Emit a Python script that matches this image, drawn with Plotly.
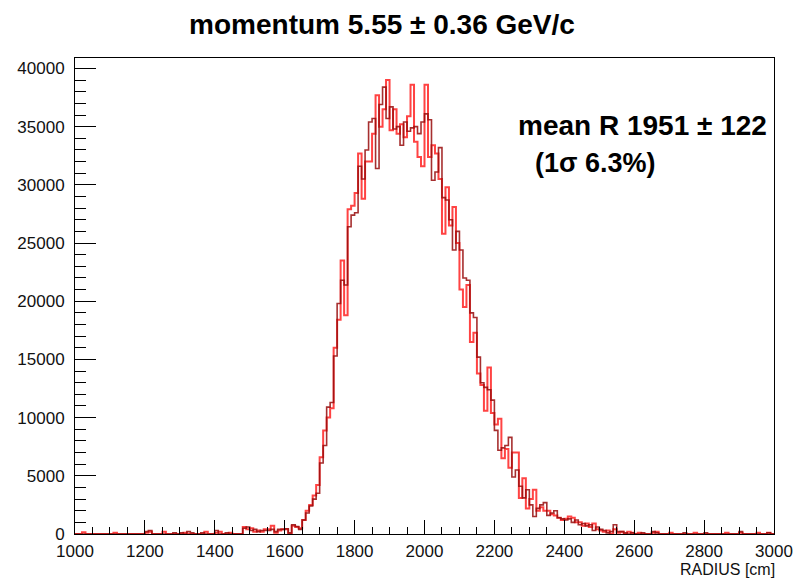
import plotly.graph_objects as go

# ---------------- data ----------------
bin_start = 1000
bin_width = 10
n_bins = 200

# dark-red histogram (counts per 10 cm bin, 1000..2990)
counts_dark = [
    0, 0, 0, 0, 0, 0, 0, 0, 0, 0,
    0, 0, 0, 0, 0, 0, 0, 0, 0, 0,
    200, 300, 0, 0, 0, 0, 0, 0, 100, 0,
    100, 0, 200, 100, 0, 0, 100, 0, 0, 0,
    300, 0, 0, 100, 0, 0, 0, 0, 500, 600,
    300, 400, 200, 300, 300, 300, 400, 200, 400, 400,
    450, 100, 800, 650, 400, 1200, 1800, 2400, 3000, 3500,
    6100, 7600, 10900, 11300, 15300, 19800, 21800, 21400, 26400, 27400,
    27600, 31600, 30500, 33000, 35400, 35700, 31400, 36900, 38400, 35700,
    36700, 34800, 35000, 33400, 35400, 34600, 34900, 35000, 34400, 35400,
    36100, 35600, 30400, 31100, 33200, 28900, 28700, 27000, 24400, 26000,
    24400, 22000, 21800, 19000, 18600, 15200, 13000, 12600, 12400, 11500,
    8900, 7200, 7400, 7600, 8300, 4900, 5500, 4100, 3100, 3800,
    2500, 1500, 2200, 2500, 2700, 1600, 1800, 2000, 1400, 1300,
    1200, 1300, 1000, 1200, 800, 900, 700, 800, 300, 600,
    400, 300, 100, 200, 800, 200, 200, 100, 0, 100,
    0, 0, 100, 0, 0, 200, 100, 0, 0, 0,
    0, 0, 0, 0, 100, 0, 0, 0, 0, 0,
    100, 0, 0, 0, 0, 0, 0, 0, 0, 0,
    200, 0, 0, 0, 0, 0, 0, 0, 100, 0,
]

# red histogram
counts_red = [
    0, 0, 150, 0, 0, 0, 0, 0, 0, 0,
    0, 100, 0, 0, 0, 0, 0, 0, 0, 0,
    100, 200, 0, 0, 0, 200, 0, 0, 0, 0,
    0, 100, 0, 0, 0, 0, 0, 200, 0, 0,
    100, 200, 0, 0, 100, 0, 0, 0, 600, 400,
    500, 200, 300, 200, 400, 400, 700, 100, 300, 400,
    400, 0, 700, 600, 500, 1200, 2000, 2500, 3300, 4200,
    6600, 8900, 10000, 10800, 16000, 18400, 23500, 18800, 27900, 28200,
    29300, 32700, 28800, 32000, 32000, 34400, 37700, 35000, 36500, 39000,
    34700, 36500, 34400, 35200, 34100, 35900, 38600, 33700, 32400, 31600,
    38600, 32400, 33400, 32700, 30500, 25800, 29800, 26500, 28100, 25000,
    21000, 19500, 21400, 16500, 17300, 13800, 12800, 10600, 14300, 10400,
    9400, 9900, 6500, 7300, 5700, 7000, 7000, 3100, 4800, 2200,
    3000, 3800, 2000, 2300, 2000, 2000, 1700, 1600, 1400, 1200,
    1300, 1500, 1400, 1000, 1000, 700, 900, 600, 900, 400,
    300, 200, 300, 0, 400, 100, 200, 0, 200, 100,
    0, 100, 0, 0, 0, 100, 200, 0, 0, 0,
    100, 0, 0, 0, 0, 0, 0, 100, 0, 0,
    0, 0, 0, 0, 0, 0, 100, 0, 0, 0,
    100, 0, 0, 0, 0, 100, 0, 0, 100, 0,
]

title_text = "momentum 5.55 \u00b1 0.36 GeV/c"
mean_text = "mean R 1951 \u00b1 122"
sigma_text = "(1\u03c3 6.3%)"
x_title = "RADIUS [cm]"

x_min, x_max = 1000, 3000
y_max = 40900

# ---------------- figure ----------------
edges = [bin_start + i * bin_width for i in range(n_bins + 1)]


def step_xy(counts):
    xs = [edges[0]] + edges
    ys = [0] + list(counts) + [counts[-1]]
    return xs, ys


fig = go.Figure()
xr, yr = step_xy(counts_red)
fig.add_trace(go.Scatter(x=xr, y=yr, mode="lines", line_shape="hv",
                         line=dict(color="rgba(255,20,20,0.8)", width=2),
                         hoverinfo="skip", showlegend=False))
xd, yd = step_xy(counts_dark)
fig.add_trace(go.Scatter(x=xd, y=yd, mode="lines", line_shape="hv",
                         line=dict(color="rgba(150,10,10,0.85)", width=1.6),
                         hoverinfo="skip", showlegend=False))

W, H = 805, 579
L, R, T, B = 75, 23, 58, 45
pw, ph = W - L - R, H - T - B


def px(x):
    return (x - L) / pw


def py(y):
    return (H - B - y) / ph


font_family = "Liberation Sans, Arial, Helvetica, sans-serif"

fig.update_layout(
    width=W, height=H,
    margin=dict(l=L, r=R, t=T, b=B, pad=0),
    paper_bgcolor="white", plot_bgcolor="white",
    font=dict(family=font_family, color="black"),
    title=dict(text="<b>" + title_text + "</b>", x=382 / W, xanchor="center",
               y=1 - 24 / H, yanchor="middle",
               font=dict(size=28, family=font_family, color="black")),
    xaxis=dict(range=[x_min, x_max], showgrid=False, zeroline=False,
               showline=True, linecolor="black", linewidth=1, mirror=True,
               ticks="inside", ticklen=14, tickwidth=1, tickcolor="black",
               tick0=1000, dtick=200, tickformat="d",
               minor=dict(ticks="inside", ticklen=7, dtick=50, tickcolor="black", tickwidth=1),
               tickfont=dict(size=17, color="#111"), ticklabelstandoff=2),
    yaxis=dict(range=[0, y_max], showgrid=False, zeroline=False,
               showline=True, linecolor="black", linewidth=1, mirror=True,
               ticks="inside", ticklen=21, tickwidth=1, tickcolor="black",
               tick0=0, dtick=5000, tickformat="d",
               minor=dict(ticks="inside", ticklen=11, dtick=1000, tickcolor="black", tickwidth=1),
               tickfont=dict(size=17, color="#111"), ticklabelstandoff=6),
    annotations=[
        dict(text="<b>" + mean_text + "</b>", xref="paper", yref="paper",
             x=px(649), y=py(125), xanchor="center", yanchor="middle",
             showarrow=False, font=dict(size=28, family=font_family, color="black")),
        dict(text="<b>" + sigma_text + "</b>", xref="paper", yref="paper",
             x=px(601), y=py(163), xanchor="center", yanchor="middle",
             showarrow=False, font=dict(size=27, family=font_family, color="black")),
        dict(text=x_title, xref="paper", yref="paper",
             x=1, y=py(569), xanchor="right", yanchor="middle", xshift=3,
             showarrow=False, font=dict(size=16, family=font_family, color="#111")),
    ],
)

fig.write_html("out.html")
